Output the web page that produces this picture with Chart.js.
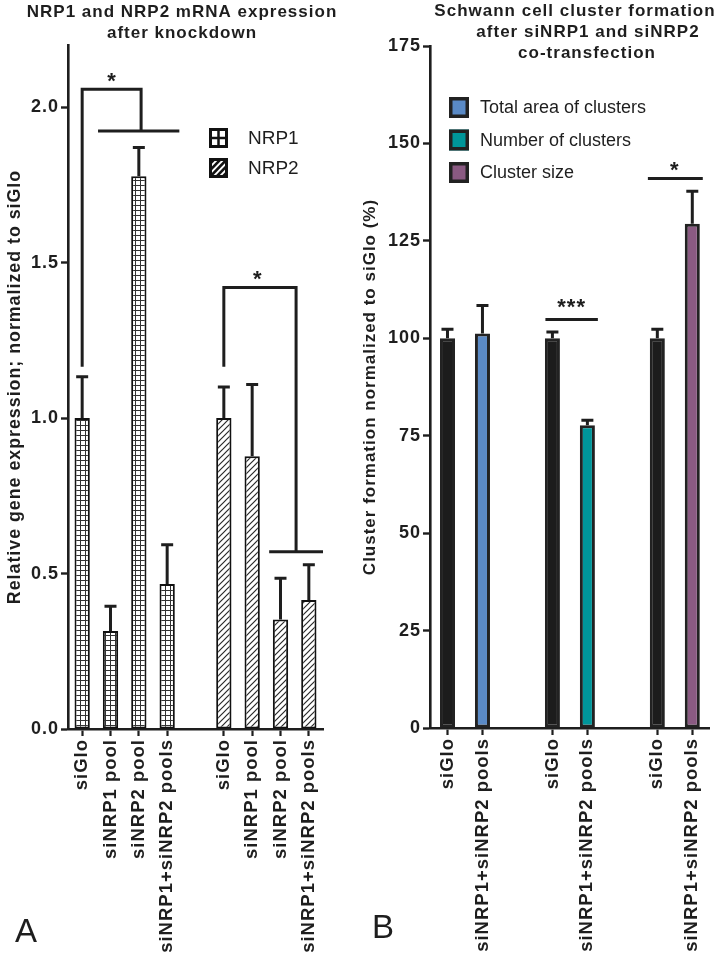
<!DOCTYPE html>
<html><head><meta charset="utf-8">
<script src="https://cdn.jsdelivr.net/npm/chart.js@4.4.0/dist/chart.umd.min.js"></script>
<style>
html,body{margin:0;padding:0;background:#fff;}
#wrap{position:relative;width:718px;height:958px;overflow:hidden;}
canvas{position:absolute;top:0;}
#cA{left:0;} #cB{left:359px;}
</style></head><body>
<div id="wrap"><canvas id="cA" width="359" height="958"></canvas><canvas id="cB" width="359" height="958"></canvas></div>
<script>
// ================= DATA =================
// Panel A
const titleA = ['NRP1 and NRP2 mRNA expression', 'after knockdown'];
const yTitleA = 'Relative gene expression; normalized to siGlo';
const catsA = ['siGlo', 'siNRP1 pool', 'siNRP2 pool', 'siNRP1+siNRP2 pools', '', 'siGlo', 'siNRP1 pool', 'siNRP2 pool', 'siNRP1+siNRP2 pools'];
const nrp1 = [1.00, 0.315, 1.778, 0.466, null, null, null, null, null];
const nrp1Err = [0.133, 0.080, 0.092, 0.127, null, null, null, null, null];
const nrp2 = [null, null, null, null, null, 1.00, 0.877, 0.352, 0.415];
const nrp2Err = [null, null, null, null, null, 0.100, 0.231, 0.133, 0.113];
const yTicksA = [0, 0.5, 1.0, 1.5, 2.0];
const yMaxA = 2.2;
// significance brackets A: polyline points [category index, value], plus star label
const bracketPathsA = [
  [[0, 1.165], [0, 2.058], [2.08, 2.058], [2.08, 1.923]],
  [[5, 1.165], [5, 1.42], [7.55, 1.42], [7.55, 0.57]]
];
const bracketBarsA = [[0.56, 3.43, 1.923], [6.6, 8.5, 0.57]];
const starsA = [['*', 1.05, 2.10], ['*', 6.2, 1.465]];
const panelA = 'A';

// Panel B
const titleB = ['Schwann cell cluster formation', 'after siNRP1 and siNRP2', 'co-transfection'];
const yTitleB = 'Cluster formation normalized to siGlo (%)';
const catsB = ['siGlo', 'siNRP1+siNRP2 pools', '', 'siGlo', 'siNRP1+siNRP2 pools', '', 'siGlo', 'siNRP1+siNRP2 pools'];
const siGloB = [100, null, null, 100, null, null, 100, null];
const siGloErrB = [2.3, null, null, 1.6, null, null, 2.3, null];
const totalArea = [null, 101.2, null, null, null, null, null, null];
const totalAreaErr = [null, 7.2, null, null, null, null, null, null];
const numClusters = [null, null, null, null, 77.7, null, null, null];
const numClustersErr = [null, null, null, null, 1.3, null, null, null];
const clusterSize = [null, null, null, null, null, null, null, 129.4];
const clusterSizeErr = [null, null, null, null, null, null, null, 8.3];
const yTicksB = [0, 25, 50, 75, 100, 125, 150, 175];
const yMaxB = 175;
const bracketBarsB = [[2.8, 4.3, 104.8], [5.73, 7.3, 141]];
const starsB = [['***', 3.55, 109.3], ['*', 6.5, 144.5]];
const panelB = 'B';

// ================= STYLE / HELPERS =================
const FONT = '"Liberation Sans", Arial, Helvetica, sans-serif';
Chart.defaults.font.family = FONT;
Chart.defaults.color = '#1e1e1e';
const INK = '#1e1e1e';

function gridPattern() {
  const c = document.createElement('canvas'); c.width = 5; c.height = 5;
  const g = c.getContext('2d');
  g.fillStyle = '#fff'; g.fillRect(0, 0, 5, 5);
  g.fillStyle = '#333'; g.fillRect(0, 0, 5, 1); g.fillRect(0, 0, 1, 5);
  return g.createPattern(c, 'repeat');
}
function hatchPattern() {
  const s = 6;
  const c = document.createElement('canvas'); c.width = s; c.height = s;
  const g = c.getContext('2d');
  g.fillStyle = '#fff'; g.fillRect(0, 0, s, s);
  g.strokeStyle = '#2a2a2a'; g.lineWidth = 1.2;
  g.beginPath();
  g.moveTo(-1, s + 1); g.lineTo(s + 1, -1);
  g.moveTo(-1, 1); g.lineTo(1, -1);
  g.moveTo(s - 1, s + 1); g.lineTo(s + 1, s - 1);
  g.stroke();
  return g.createPattern(c, 'repeat');
}

const spacing = {
  id: 'spacing',
  beforeUpdate(c) { c.ctx.letterSpacing = '1px'; },
  beforeDraw(c) { c.ctx.letterSpacing = '1px'; }
};

const decor = {
  id: 'decor',
  afterDatasetsDraw(chart, args, o) {
    const ctx = chart.ctx, xs = chart.scales.x, ys = chart.scales.y;
    ctx.save();
    ctx.strokeStyle = INK; ctx.lineCap = 'butt'; ctx.lineJoin = 'miter';
    // error bars
    ctx.lineWidth = o.errWidth;
    chart.data.datasets.forEach((ds, di) => {
      if (!ds.err) return;
      const meta = chart.getDatasetMeta(di);
      ds.data.forEach((v, i) => {
        if (v == null || ds.err[i] == null) return;
        const el = meta.data[i];
        const yT = ys.getPixelForValue(v + ds.err[i]);
        ctx.beginPath();
        ctx.moveTo(el.x, el.y); ctx.lineTo(el.x, yT);
        ctx.moveTo(el.x - o.capHalf, yT); ctx.lineTo(el.x + o.capHalf, yT);
        ctx.stroke();
      });
    });
    // brackets
    ctx.lineWidth = o.bracketWidth;
    (o.paths || []).forEach(p => {
      ctx.beginPath();
      p.forEach((pt, k) => {
        const X = xs.getPixelForValue(pt[0]), Y = ys.getPixelForValue(pt[1]);
        if (k) ctx.lineTo(X, Y); else ctx.moveTo(X, Y);
      });
      ctx.stroke();
    });
    (o.bars || []).forEach(b => {
      const Y = ys.getPixelForValue(b[2]);
      ctx.beginPath();
      ctx.moveTo(xs.getPixelForValue(b[0]), Y); ctx.lineTo(xs.getPixelForValue(b[1]), Y);
      ctx.stroke();
    });
    ctx.fillStyle = INK; ctx.textAlign = 'center'; ctx.textBaseline = 'alphabetic';
    ctx.font = 'bold ' + o.starSize + 'px ' + FONT;
    ctx.letterSpacing = '1px';
    (o.stars || []).forEach(s => {
      const X = xs.getPixelForValue(s[1]), Y = ys.getPixelForValue(s[2]);
      ctx.fillText(s[0], X, Y + 0.56 * o.starSize);
    });
    ctx.restore();
  },
  afterDraw(chart, args, o) {
    const ctx = chart.ctx;
    ctx.save();
    ctx.fillStyle = INK; ctx.textBaseline = 'middle';
    // titles
    ctx.letterSpacing = '1px';
    ctx.font = 'bold ' + o.titleSize + 'px ' + FONT;
    ctx.textAlign = 'center';
    o.title.forEach((t, i) => ctx.fillText(t, o.titleX[i], o.titleY[i]));
    // legend
    ctx.letterSpacing = '0px';
    ctx.font = o.legendSize + 'px ' + FONT;
    ctx.textAlign = 'left';
    o.legend.forEach((it, i) => {
      const ds = chart.data.datasets[it];
      const bx = o.legendBox[0], by = o.legendBox[1] + i * o.legendStep, bw = o.legendBox[2], bh = o.legendBox[3];
      o.drawBox(ctx, ds, bx, by, bw, bh);
      ctx.fillStyle = INK;
      ctx.fillText(ds.label, o.legendTextX, by + bh / 2 + 1);
    });
    // panel letter
    ctx.font = o.panelSize + 'px ' + FONT;
    ctx.textBaseline = 'alphabetic';
    ctx.fillText(o.panel, o.panelX, o.panelY);
    ctx.restore();
  }
};

function boxA(ctx, ds, x, y, w, h) {
  if (ds.label === 'NRP1') {
    ctx.fillStyle = '#111'; ctx.fillRect(x, y, w, h);
    const b = 3, gap = 2.5;
    const cw = (w - 2 * b - gap) / 2, ch = (h - 2 * b - gap) / 2;
    ctx.fillStyle = '#fff';
    ctx.fillRect(x + b, y + b, cw, ch);
    ctx.fillRect(x + b + cw + gap, y + b, cw, ch);
    ctx.fillRect(x + b, y + b + ch + gap, cw, ch);
    ctx.fillRect(x + b + cw + gap, y + b + ch + gap, cw, ch);
  } else {
    ctx.save();
    ctx.fillStyle = '#fff'; ctx.fillRect(x, y, w, h);
    ctx.beginPath(); ctx.rect(x, y, w, h); ctx.clip();
    ctx.strokeStyle = '#111'; ctx.lineWidth = 2.6;
    for (let k = -3; k <= 3; k++) {
      const off = k * 6.2;
      ctx.beginPath(); ctx.moveTo(x + off - 2, y + h + 2); ctx.lineTo(x + off + w + 2, y - 2); ctx.stroke();
    }
    ctx.restore();
    ctx.strokeStyle = '#111'; ctx.lineWidth = 3;
    ctx.strokeRect(x + 1.5, y + 1.5, w - 3, h - 3);
  }
}
function boxB(ctx, ds, x, y, w, h) {
  ctx.fillStyle = ds.backgroundColor; ctx.fillRect(x, y, w, h);
  ctx.strokeStyle = '#222'; ctx.lineWidth = 3.5;
  ctx.strokeRect(x + 1.75, y + 1.75, w - 3.5, h - 3.5);
}

function xScale(height, fontSize) {
  return {
    type: 'category', offset: true,
    grid: {
      display: true, drawOnChartArea: false, offset: false, tickLength: 7, tickWidth: 2.2,
      tickColor: c => (c.tick && c.tick.label) ? INK : 'rgba(0,0,0,0)', color: INK
    },
    border: { display: true, color: INK, width: 2.6 },
    ticks: { autoSkip: false, maxRotation: 90, minRotation: 90, padding: 3, color: INK,
             font: { size: fontSize, weight: 'bold' } },
    afterFit: s => { s.height = height; }
  };
}
function yScale(width, max, ticks, fmt, title, titleSize, titlePad) {
  return {
    min: 0, max: max,
    grid: { display: true, drawOnChartArea: false, tickLength: 7, tickWidth: 2.4, color: INK },
    border: { display: true, color: INK, width: 2.6 },
    ticks: { padding: 2, color: INK, font: { size: 18, weight: 'bold' }, callback: fmt },
    afterBuildTicks: s => { s.ticks = ticks.map(v => ({ value: v })); },
    title: { display: true, text: title, color: INK, font: { size: titleSize, weight: 'bold' }, padding: { top: titlePad, bottom: 0 } },
    afterFit: s => { s.width = width; }
  };
}

// ================= CHART A =================
const pGrid = gridPattern(), pHatch = hatchPattern();
new Chart(document.getElementById('cA'), {
  type: 'bar',
  data: {
    labels: catsA,
    datasets: [
      { label: 'NRP1', data: nrp1, err: nrp1Err, backgroundColor: pGrid, borderColor: '#111', borderWidth: 2,
        borderSkipped: false, grouped: false, barPercentage: 0.54, categoryPercentage: 1 },
      { label: 'NRP2', data: nrp2, err: nrp2Err, backgroundColor: pHatch, borderColor: '#111', borderWidth: 2,
        borderSkipped: false, grouped: false, barPercentage: 0.54, categoryPercentage: 1 }
    ]
  },
  options: {
    responsive: false, animation: false, devicePixelRatio: 1,
    layout: { padding: { top: 45, right: 36, left: 0, bottom: 0 } },
    plugins: {
      legend: { display: false }, tooltip: { enabled: false }, title: { display: false },
      decor: {
        errWidth: 3, capHalf: 6, bracketWidth: 3, starSize: 22,
        paths: bracketPathsA, bars: bracketBarsA, stars: starsA,
        title: titleA, titleSize: 17, titleX: [182, 182], titleY: [12, 33],
        legend: [0, 1], legendBox: [209, 128, 19, 20], legendStep: 30, legendTextX: 248, legendSize: 19, drawBox: boxA,
        panel: panelA, panelX: 15, panelY: 942, panelSize: 33
      }
    },
    scales: {
      x: xScale(229, 18.5),
      y: yScale(68, yMaxA, yTicksA, v => Number(v).toFixed(1), yTitleA, 17.8, 4)
    }
  },
  plugins: [spacing, decor]
});

// ================= CHART B =================
const common = { borderSkipped: false, grouped: false, barPercentage: 0.43, categoryPercentage: 1, borderColor: '#222', borderWidth: 3 };
new Chart(document.getElementById('cB'), {
  type: 'bar',
  data: {
    labels: catsB,
    datasets: [
      Object.assign({ label: 'siGlo', data: siGloB, err: siGloErrB, backgroundColor: '#1c1c1c' }, common),
      Object.assign({ label: 'Total area of clusters', data: totalArea, err: totalAreaErr, backgroundColor: '#5a8ac6' }, common),
      Object.assign({ label: 'Number of clusters', data: numClusters, err: numClustersErr, backgroundColor: '#00969a' }, common),
      Object.assign({ label: 'Cluster size', data: clusterSize, err: clusterSizeErr, backgroundColor: '#8a5a82' }, common)
    ]
  },
  options: {
    responsive: false, animation: false, devicePixelRatio: 1,
    layout: { padding: { top: 46, right: 8, left: 0, bottom: 0 } },
    plugins: {
      legend: { display: false }, tooltip: { enabled: false }, title: { display: false },
      decor: {
        errWidth: 3, capHalf: 6, bracketWidth: 3, starSize: 22,
        paths: [], bars: bracketBarsB, stars: starsB,
        title: titleB, titleSize: 17, titleX: [216, 229, 228], titleY: [11, 32, 53],
        legend: [1, 2, 3], legendBox: [90, 97, 20, 21], legendStep: 32.5, legendTextX: 121, legendSize: 18, drawBox: boxB,
        panel: panelB, panelX: 13, panelY: 938, panelSize: 33
      }
    },
    scales: {
      x: xScale(230, 18.5),
      y: yScale(71, yMaxB, yTicksB, v => String(v), yTitleB, 17, 1)
    }
  },
  plugins: [spacing, decor]
});
</script>
</body></html>
